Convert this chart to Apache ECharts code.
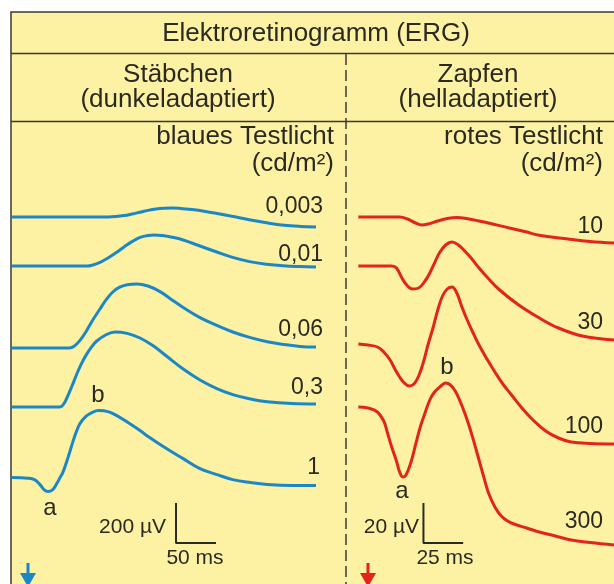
<!DOCTYPE html>
<html><head><meta charset="utf-8">
<script src="https://cdn.jsdelivr.net/npm/echarts@6/dist/echarts.min.js"></script>
<style>html,body{margin:0;padding:0;background:#fff}#c{width:614px;height:584px}</style>
</head><body><div id="c"></div>
<script>
// ---- Data: rods (Stäbchen), time in ms, response in µV relative to trace baseline
const rodLabels = ['0,003', '0,01', '0,06', '0,3', '1'];
const rodBaselines = [1835, 1590, 1180, 885, 532];
const rod0003 = [[-20,0],[100,0],[110,2],[120,7],[130,15],[140,24],[150,33],[160,40],[170,44],[180,45],[190,43],[205,37],[220,29],[240,15],[260,0],[280,-16],[300,-30],[320,-41],[340,-47],[360,-50]];
const rod001 = [[-20,0],[74,0],[80,4],[90,18],[100,40],[110,66],[120,95],[130,122],[140,143],[150,153],[158,155],[168,152],[180,144],[194,130],[215,100],[236,70],[257,42],[277,22],[298,9],[319,1],[340,-3],[360,-5]];
const rod006 = [[-20,0],[52,0],[58,10],[65,38],[73,85],[81,140],[90,195],[98,243],[106,280],[114,303],[124,316],[136,320],[150,310],[165,282],[181,238],[198,192],[215,152],[236,113],[256,80],[277,53],[299,31],[320,17],[340,8],[360,5]];
const rod03 = [[-20,0],[40,0],[44,12],[48,40],[55,105],[61,165],[67,218],[73,262],[80,303],[86,330],[97,360],[109,375],[124,368],[140,345],[156,307],[173,255],[194,190],[215,135],[236,92],[256,62],[278,40],[299,26],[330,17],[360,15]];
const rod1 = [[-20,0],[0,-3],[8,-10],[15,-35],[20,-60],[25,-70],[31,-60],[36,-30],[40,0],[44,30],[50,100],[55,165],[60,225],[65,270],[72,305],[80,325],[88,335],[100,330],[111,310],[125,275],[140,235],[152,200],[173,145],[194,95],[215,45],[236,15],[256,-10],[278,-25],[299,-35],[330,-40],[360,-40]];
const rodTraces = [rod0003, rod001, rod006, rod03, rod1];

// ---- Data: cones (Zapfen)
const coneLabels = ['10', '30', '100', '300'];
const coneBaselines = [183.5, 159, 120, 88.5];
const cone10 = [[-6,0],[20,0],[25,-1],[30,-3],[34,-4],[38,-3.5],[44,-2],[50,-0.75],[56,-0.25],[62,-0.75],[70,-2],[76,-3],[89,-5.5],[100,-7.5],[107,-9],[126,-11],[140,-12.25],[155,-13]];
const cone30 = [[-6,0],[15,0],[18,-1],[23,-8],[28,-11.5],[32,-11],[36,-7.5],[39,-3.5],[42,1.5],[45,6.5],[49,10.5],[53,12],[57,10.5],[61,7.5],[65,4],[70,-1],[75,-5.5],[83,-12],[95,-19.5],[108,-26],[120,-31],[135,-35],[155,-37]];
const cone100 = [[-6,0],[0,-0.5],[6,-1.5],[10,-4],[14,-8],[17,-12.5],[20,-16.5],[23,-19.5],[26,-21],[29,-20],[32,-16],[35,-9],[38,0],[41,8],[44,17],[47,24],[50,27.5],[53,28.5],[56,25.5],[59,19],[62,13],[66,6],[70,-0.5],[75,-7.5],[80,-14],[85,-20],[90,-25],[97,-32],[104,-38],[112,-43.5],[120,-47],[128,-49],[140,-49.75],[155,-50]];
const cone300 = [[-6,0],[0,-0.5],[6,-2.5],[10,-7],[12,-12],[15,-20],[18,-27],[20,-32.5],[22,-35],[24,-34],[27,-28],[30,-19],[33,-10],[36,-3],[39,3.5],[42,7.5],[46,10.5],[49,12],[52,11],[55,8],[58,3],[61,-3],[64,-10],[67,-18],[70,-26.5],[73,-35],[76,-43],[80,-50],[84,-54.5],[88,-57],[92,-58.5],[100,-60.5],[108,-62.5],[118,-64.5],[128,-66.5],[140,-67.75],[155,-69]];
const coneTraces = [cone10, cone30, cone100, cone300];

// scale bars: [origin time, origin µV, bar µV, bar ms]
const rodScale = [185, 205, 200, 50];
const coneScale = [35, 20.5, 20, 25];

const BLUE = '#1c87c6', RED = '#e1251c', INK = '#2a2a22', BG = '#fdf1a3';
const FONT = '"Liberation Sans", Arial, sans-serif';

const chart = echarts.init(document.getElementById('c'), null, {renderer: 'canvas'});

function traceSeries(trace, base, idx, color) {
  return {
    type: 'line', xAxisIndex: idx, yAxisIndex: idx, z: 5,
    data: trace.map(p => [p[0], base + p[1]]),
    smooth: 0.4, showSymbol: false, silent: true,
    lineStyle: {color: color, width: 3}
  };
}
function scaleSeries(s, idx) {
  return {
    type: 'line', xAxisIndex: idx, yAxisIndex: idx, z: 5,
    data: [[s[0], s[1] + s[2]], [s[0], s[1]], [s[0] + s[3], s[1]]],
    showSymbol: false, silent: true,
    lineStyle: {color: INK, width: 2}
  };
}

const series = [];
rodTraces.forEach((t, i) => series.push(traceSeries(t, rodBaselines[i], 0, BLUE)));
coneTraces.forEach((t, i) => series.push(traceSeries(t, coneBaselines[i], 1, RED)));
series.push(scaleSeries(rodScale, 0));
series.push(scaleSeries(coneScale, 1));

function txt(x, y, text, size, align) {
  return {type: 'text', z: 10, style: {x: x, y: y, text: text, fill: INK,
    font: size + 'px ' + FONT, textAlign: align || 'center', textVerticalAlign: 'middle'}};
}

const rodLabelPos = [[323, 207], [323, 255], [323, 330], [323, 388], [320, 468]];
const coneLabelPos = [[603, 227], [603, 323], [603, 427], [603, 522]];

const graphic = [
  {type: 'rect', z: -10, shape: {x: 11, y: 12, width: 620, height: 590}, style: {fill: BG, stroke: '#3a3a30', lineWidth: 1.5}},
  {type: 'line', z: -5, shape: {x1: 11, y1: 53.5, x2: 614, y2: 53.5}, style: {stroke: '#3a3a30', lineWidth: 1.5}},
  {type: 'line', z: -5, shape: {x1: 11, y1: 121.5, x2: 614, y2: 121.5}, style: {stroke: '#3a3a30', lineWidth: 1.5}},
  {type: 'line', z: -5, shape: {x1: 346, y1: 54, x2: 346, y2: 584}, style: {stroke: '#3a3a30', lineWidth: 1.5, lineDash: [11, 5]}},
  txt(316, 34, 'Elektroretinogramm (ERG)', 26),
  txt(178, 75, 'Stäbchen', 26),
  txt(178, 100, '(dunkeladaptiert)', 26),
  txt(478, 75, 'Zapfen', 26),
  txt(478, 100, '(helladaptiert)', 26),
  txt(334, 137, 'blaues Testlicht', 26, 'right'),
  txt(334, 164, '(cd/m²)', 26, 'right'),
  txt(603, 137, 'rotes Testlicht', 26, 'right'),
  txt(603, 164, '(cd/m²)', 26, 'right'),
  txt(98, 395, 'b', 24), txt(50, 508, 'a', 24),
  txt(447, 367, 'b', 24), txt(402, 491, 'a', 24),
  txt(166, 527, '200 µV', 21, 'right'),
  txt(195, 558, '50 ms', 21),
  txt(419, 527, '20 µV', 21, 'right'),
  txt(445, 558, '25 ms', 21),
  // stimulus arrows
  {type: 'line', shape: {x1: 28, y1: 563, x2: 28, y2: 580}, style: {stroke: BLUE, lineWidth: 3}},
  {type: 'polygon', shape: {points: [[20, 573], [36, 573], [28, 587]]}, style: {fill: BLUE}},
  {type: 'line', shape: {x1: 368, y1: 563, x2: 368, y2: 580}, style: {stroke: RED, lineWidth: 3}},
  {type: 'polygon', shape: {points: [[360, 573], [376, 573], [368, 587]]}, style: {fill: RED}}
];
rodLabels.forEach((l, i) => graphic.push(txt(rodLabelPos[i][0], rodLabelPos[i][1], l, 23, 'right')));
coneLabels.forEach((l, i) => graphic.push(txt(coneLabelPos[i][0], coneLabelPos[i][1], l, 23, 'right')));

chart.setOption({
  animation: false,
  backgroundColor: '#ffffff',
  grid: [
    {left: 12, top: 124, width: 320, height: 460},
    {left: 352, top: 124, width: 264, height: 460}
  ],
  xAxis: [
    {type: 'value', gridIndex: 0, min: -20, max: 380, show: false},
    {type: 'value', gridIndex: 1, min: -10, max: 155, show: false}
  ],
  yAxis: [
    {type: 'value', gridIndex: 0, min: 0, max: 2300, show: false},
    {type: 'value', gridIndex: 1, min: 0, max: 230, show: false}
  ],
  graphic: graphic,
  series: series
});
</script></body></html>
